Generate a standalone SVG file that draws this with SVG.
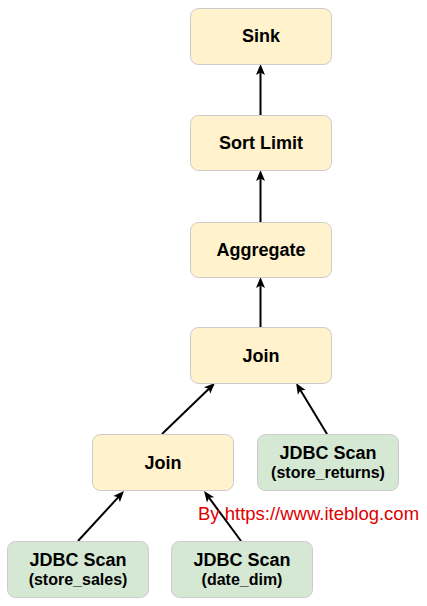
<svg xmlns="http://www.w3.org/2000/svg" width="427" height="606" viewBox="0 0 427 606">
<style>
.y{fill:#fff2cc;stroke:#cccccc;stroke-width:1}
.g{fill:#d5e8d4;stroke:#cccccc;stroke-width:1}
.t{font-family:"Liberation Sans",Arial,sans-serif;font-weight:bold;font-size:18px;fill:#000;text-anchor:middle}
.s{font-family:"Liberation Sans",Arial,sans-serif;font-weight:bold;font-size:16px;fill:#000;text-anchor:middle}
.e{fill:none;stroke:#000;stroke-width:2}
.w{font-family:"Liberation Sans",Arial,sans-serif;font-size:18.5px;fill:#e00000}
</style>
<defs>
<marker id="a" markerUnits="userSpaceOnUse" markerWidth="11" markerHeight="9" refX="3" refY="4.5" orient="auto" overflow="visible">
<path d="M0,0 L11,4.5 L0,9 L2.5,4.5 z" fill="#000"/>
</marker>
</defs>
<rect width="427" height="606" fill="#fff"/>
<g id="connectors">
<line class="e" x1="260.5" y1="115" x2="260.5" y2="72" marker-end="url(#a)"/>
<line class="e" x1="260.5" y1="222" x2="260.5" y2="178" marker-end="url(#a)"/>
<line class="e" x1="260.5" y1="327" x2="260.5" y2="285" marker-end="url(#a)"/>
<line class="e" x1="162" y1="434" x2="209.2" y2="388.5" marker-end="url(#a)"/>
<line class="e" x1="327" y1="434" x2="300.2" y2="389.8" marker-end="url(#a)"/>
<line class="e" x1="78" y1="541" x2="118.6" y2="496.9" marker-end="url(#a)"/>
<line class="e" x1="241" y1="541" x2="208.8" y2="497.4" marker-end="url(#a)"/>
</g>
<g id="sink"><rect class="y" x="190.5" y="8.5" width="141" height="56" rx="8"/><text class="t" x="261" y="42">Sink</text></g>
<g id="sortlimit"><rect class="y" x="190.5" y="115.5" width="141" height="55" rx="8"/><text class="t" x="261" y="149">Sort Limit</text></g>
<g id="aggregate"><rect class="y" x="190.5" y="222.5" width="141" height="55" rx="8"/><text class="t" x="261" y="256">Aggregate</text></g>
<g id="join1"><rect class="y" x="190.5" y="327.5" width="141" height="56" rx="8"/><text class="t" x="261" y="362">Join</text></g>
<g id="join2"><rect class="y" x="92.5" y="434.5" width="141" height="56" rx="8"/><text class="t" x="163" y="469">Join</text></g>
<g id="store_returns"><rect class="g" x="257.5" y="434.5" width="141" height="56" rx="8"/><text class="t" x="328" y="459">JDBC Scan</text><text class="s" x="328" y="478">(store_returns)</text></g>
<g id="store_sales"><rect class="g" x="7.5" y="541.5" width="141" height="56" rx="8"/><text class="t" x="78" y="566">JDBC Scan</text><text class="s" x="78" y="585">(store_sales)</text></g>
<g id="date_dim"><rect class="g" x="171.5" y="541.5" width="141" height="56" rx="8"/><text class="t" x="242" y="566">JDBC Scan</text><text class="s" x="242" y="585">(date_dim)</text></g>
<text class="w" x="198" y="520">By https://www.iteblog.com</text>
</svg>
